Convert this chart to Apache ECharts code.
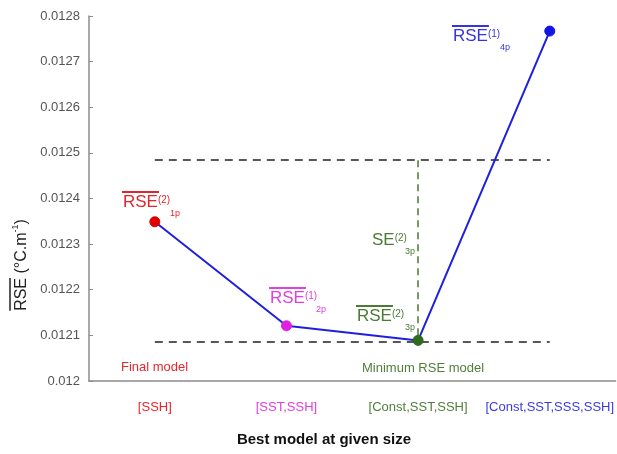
<!DOCTYPE html>
<html><head><meta charset="utf-8">
<script src="https://cdn.jsdelivr.net/npm/echarts@6/dist/echarts.min.js"></script>
<style>html,body{margin:0;padding:0;background:#fff}#c{width:617px;height:454px}</style>
</head><body><div id="c"></div>
<script>
// ---- data ----
const categories = ['[SSH]', '[SST,SSH]', '[Const,SST,SSH]', '[Const,SST,SSS,SSH]'];
const categoryColors = ['#e8262b', '#e43ce0', '#4f7f3a', '#3b3be0'];
const rseValues = [0.012349, 0.012121, 0.012089, 0.012767];
const markerColors = ['#e00000', '#e020e0', '#2e6a1e', '#1414e6'];
const minRseLine = 0.012085;
const minPlusSeLine = 0.012484;
const yMin = 0.012, yMax = 0.0128, yStep = 0.0001;

const FF = '"Liberation Sans", Arial, sans-serif';
const mctx = document.createElement('canvas').getContext('2d');
function tw(t, size, weight) { mctx.font = (weight || 'normal') + ' ' + size + 'px ' + FF; return mctx.measureText(t).width; }

function txt(x, y, text, color, size, extra) {
  return Object.assign({ type: 'text', x: x, y: y, style: Object.assign({ text: text, fill: color, font: size + 'px ' + FF, fontSize: size, fontFamily: FF, verticalAlign: 'middle', textVerticalAlign: 'middle' }, extra || {}) });
}

// annotation: main text with optional overline, superscript and subscript
function ann(left, cy, main, sup, sub, color, overline, subLeft) {
  const fs = 17, w = tw(main, fs);
  const els = [
    txt(left, cy, main, color, fs),
    txt(left + w, cy - 2, sup, color, 10),
    txt(subLeft, cy + 12, sub, color, 9)
  ];
  if (overline) els.push({ type: 'line', shape: { x1: left - 1, y1: cy - 10, x2: left + w + 1, y2: cy - 10 }, style: { stroke: color, lineWidth: 2 } });
  return els;
}

// y-axis title group (rotated)
const yfs = 16;
const p1 = 'RSE (°C.m', p2 = '-1', p3 = ')';
const w1 = tw(p1, yfs), w2 = tw(p2, 9), w3 = tw(p3, yfs), wR = tw('RSE', yfs);
const L = w1 + w2 + w3;
const yTitle = {
  type: 'group', x: 22, y: 265, rotation: Math.PI / 2,
  children: [
    txt(-L / 2, 0, p1, '#222', yfs),
    txt(-L / 2 + w1, -6, p2, '#222', 9),
    txt(-L / 2 + w1 + w2, 0, p3, '#222', yfs),
    { type: 'line', shape: { x1: -L / 2, y1: -12, x2: -L / 2 + wR, y2: -12 }, style: { stroke: '#222', lineWidth: 1.5 } }
  ]
};

const graphics = [].concat(
  ann(123, 202, 'RSE', '(2)', '1p', '#e0262c', true, 170),
  ann(270, 298, 'RSE', '(1)', '2p', '#e040e0', true, 316),
  ann(372, 240, 'SE', '(2)', '3p', '#4a7a34', false, 405),
  ann(357, 316, 'RSE', '(2)', '3p', '#4a7a34', true, 405),
  ann(453, 36, 'RSE', '(1)', '4p', '#3535e0', true, 500),
  [
    txt(121, 367, 'Final model', '#e8262b', 13),
    txt(362, 368, 'Minimum RSE model', '#4f7f3a', 13),
    txt(324, 440, 'Best model at given size', '#111', 15, { font: 'bold 15px ' + FF, fontWeight: 'bold', align: 'center', textAlign: 'center' }),
    yTitle
  ]
);

const chart = echarts.init(document.getElementById('c'), null, { renderer: 'canvas' });
chart.setOption({
  animation: false,
  backgroundColor: '#fff',
  grid: { left: 89, right: 1, top: 16, bottom: 73, containLabel: false },
  xAxis: {
    type: 'category', data: categories, boundaryGap: true,
    axisLine: { lineStyle: { color: '#8c8c8c', width: 1.5 } },
    axisTick: { inside: true, alignWithLabel: true, interval: 0, length: 4, lineStyle: { color: '#8c8c8c' } },
    axisLabel: { interval: 0, margin: 20, fontSize: 13, fontFamily: FF, color: (v) => categoryColors[categories.indexOf(v)] },
    splitLine: { show: false }
  },
  yAxis: {
    type: 'value', min: yMin, max: yMax, interval: yStep,
    axisLine: { show: true, lineStyle: { color: '#8c8c8c', width: 1.5 } },
    axisTick: { show: true, inside: true, length: 4, lineStyle: { color: '#8c8c8c' } },
    axisLabel: { margin: 9, fontSize: 13, fontFamily: FF, color: '#555', formatter: v => String(+v.toFixed(4)) },
    splitLine: { show: false }
  },
  series: [{
    type: 'line',
    data: rseValues.map((v, i) => ({ value: v, itemStyle: { color: markerColors[i], borderColor: markerColors[i] } })),
    lineStyle: { color: '#1f1fe0', width: 2 },
    symbol: 'circle', symbolSize: 10, showSymbol: true, z: 5,
    markLine: {
      silent: true, symbol: 'none', label: { show: false }, z: 3,
      data: [
        [{ coord: [categories[0], minPlusSeLine], lineStyle: { color: '#222', type: [8, 6], width: 1.5 } }, { coord: [categories[3], minPlusSeLine] }],
        [{ coord: [categories[0], minRseLine], lineStyle: { color: '#222', type: [8, 6], width: 1.5 } }, { coord: [categories[3], minRseLine] }],
        [{ coord: [categories[2], minPlusSeLine], lineStyle: { color: '#4a7a2e', type: [7, 5], width: 1.5 } }, { coord: [categories[2], minRseLine] }]
      ]
    }
  }],
  graphic: graphics
});
</script></body></html>
